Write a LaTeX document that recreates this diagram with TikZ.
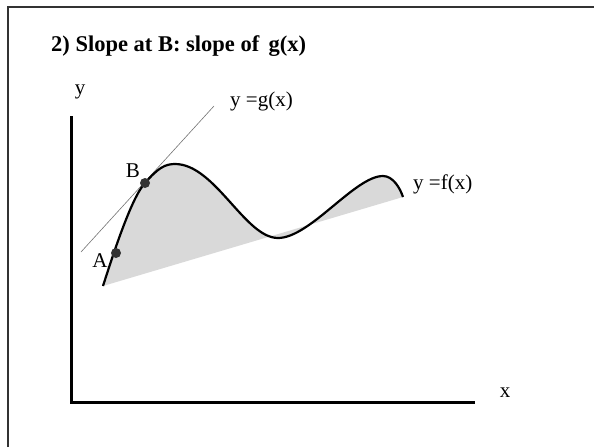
\documentclass[tikz,border=0pt]{standalone}
\usepackage{fontspec}
\setmainfont{Liberation Serif}
\begin{document}
\begin{tikzpicture}[x=1pt,y=-1pt,
    axis/.style={line width=3pt},
    dot/.style={circle,fill=black!80,inner sep=0pt,minimum size=10pt},
    lbl/.style={font=\fontsize{21}{23}\selectfont,inner sep=0pt}]
    \useasboundingbox (0,0) rectangle (594,447);
    % frame
    \draw[line width=2pt,black!80] (8,447) -- (8,7) -- (594,7);
    \node[anchor=base west,inner sep=0pt,font=\fontsize{22.5}{24}\selectfont\bfseries] (title) at (51,51) {2) Slope at B: slope of \,g(x)};
    % axes
    \coordinate (O) at (71,402);
    \coordinate (ytop) at (71,116);
    \coordinate (xend) at (475,402);
    \draw[axis] (ytop) -- (O) -- (xend);
    \node[lbl] (ylab) at (80,92) {y};
    \node[lbl] (xlab) at (505,393) {x};
    % shaded region
    \coordinate (start) at (103,286);
    \coordinate (B) at (145,183);
    \coordinate (peak) at (175,164);
    \coordinate (valley) at (278,238);
    \coordinate (peakb) at (383,176);
    \coordinate (end) at (403,197);
    \fill[black!15] (start) .. controls (112,258) and (131,198) .. (B)
        .. controls (158,168) and (165,164) .. (peak)
        .. controls (215,164) and (245,238) .. (valley)
        .. controls (310,238) and (355,176) .. (peakb)
        .. controls (393,176) and (400,188) .. (end) -- cycle;
    % tangent g(x)
    \coordinate (g1) at (81,252);
    \coordinate (g2) at (214,106);
    \draw[black!55,line width=0.6pt] (g1) -- (g2);
    % f(x)
    \draw[line width=2.2pt] (start) .. controls (112,258) and (131,198) .. (B)
        .. controls (158,168) and (165,164) .. (peak)
        .. controls (215,164) and (245,238) .. (valley)
        .. controls (310,238) and (355,176) .. (peakb)
        .. controls (393,176) and (400,188) .. (end);
    \node[dot] (ptA) at (116,253) {};
    \node[dot] (ptB) at (B) {};
    \node[lbl] (labA) at (100,261) {A};
    \node[lbl] (labB) at (133,171) {B};
    \node[lbl,anchor=west] (labg) at (230,101) {y =g(x)};
    \node[lbl,anchor=west] (labf) at (413,184) {y =f(x)};
\end{tikzpicture}
\end{document}
